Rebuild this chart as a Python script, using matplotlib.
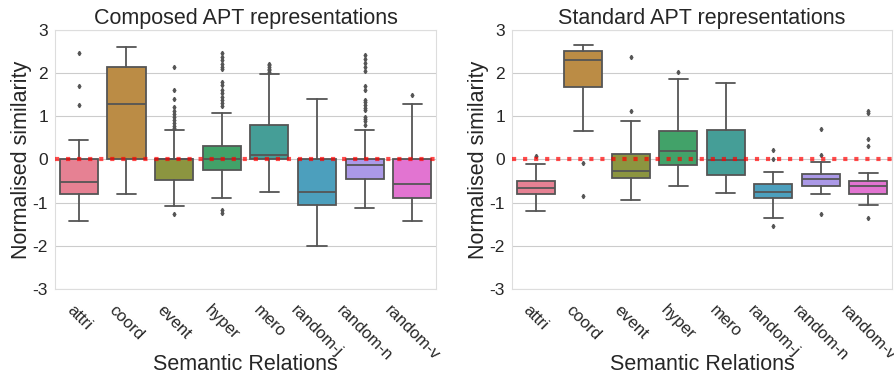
import matplotlib
matplotlib.use("Agg")
import matplotlib.pyplot as plt
import seaborn as sns

relations = ["attri", "coord", "event", "hyper", "mero", "random-j", "random-n", "random-v"]

# composed APT representations: box statistics
comp_whislo = [-1.42, -0.79, -1.07, -0.89, -0.75, -2.01, -1.12, -1.42]
comp_q1 = [-0.80, 0.00, -0.48, -0.24, 0.02, -1.05, -0.46, -0.89]
comp_med = [-0.52, 1.28, 0.00, 0.02, 0.10, -0.75, -0.12, -0.58]
comp_q3 = [0.00, 2.13, 0.00, 0.31, 0.80, 0.00, 0.00, 0.00]
comp_whishi = [0.45, 2.60, 0.68, 1.08, 1.97, 1.40, 0.68, 1.29]
comp_fliers = [
    [2.46, 1.70, 1.25],
    [],
    [2.13, 1.61, 1.41, 1.22, 1.13, 1.05, 0.98, 0.91, 0.84, 0.78, 0.72, -1.27],
    [2.46, 2.38, 2.30, 2.22, 2.15, 2.09, 1.80, 1.73, 1.61, 1.53, 1.45, 1.38,
     1.30, 1.24, -1.17, -1.25],
    [2.22, 2.18, 2.14, 2.10, 2.06, 2.02],
    [],
    [2.42, 2.33, 2.23, 2.15, 2.05, 1.69, 1.61, 1.38, 1.32, 1.26, 1.20, 1.15,
     0.99, 0.93, 0.88, 0.80],
    [1.49],
]

# standard APT representations
std_whislo = [-1.19, 0.65, -0.95, -0.62, -0.77, -1.35, -0.80, -1.06]
std_q1 = [-0.81, 1.67, -0.44, -0.13, -0.36, -0.90, -0.62, -0.81]
std_med = [-0.66, 2.30, -0.27, 0.19, -0.02, -0.76, -0.46, -0.62]
std_q3 = [-0.50, 2.52, 0.12, 0.67, 0.68, -0.56, -0.34, -0.50]
std_whishi = [-0.10, 2.65, 0.88, 1.86, 1.76, -0.29, -0.05, -0.31]
std_fliers = [
    [0.08],
    [-0.08, -0.85],
    [2.37, 1.12],
    [2.03],
    [],
    [0.21, 0.02, -1.53],
    [0.70, 0.11, -1.27],
    [1.12, 1.07, 0.47, 0.30, -1.36],
]

sns.set_style("whitegrid")
plt.rcParams["font.family"] = ["Liberation Sans", "DejaVu Sans"]
plt.rcParams["axes.unicode_minus"] = False

colors = sns.color_palette("husl", len(relations), desat=0.75)
line_col = "#555555"


def draw(ax, title, whislo, q1, med, q3, whishi, fliers):
    stats = []
    for i, name in enumerate(relations):
        stats.append(dict(label=name, whislo=whislo[i], q1=q1[i], med=med[i],
                          q3=q3[i], whishi=whishi[i], fliers=fliers[i]))
    bp = ax.bxp(stats, positions=range(len(relations)), widths=0.8,
                patch_artist=True,
                boxprops=dict(edgecolor=line_col, linewidth=1.3),
                medianprops=dict(color=line_col, linewidth=1.3),
                whiskerprops=dict(color=line_col, linewidth=1.3),
                capprops=dict(color=line_col, linewidth=1.3),
                flierprops=dict(marker="d", markersize=2.2, markerfacecolor=line_col,
                                markeredgecolor=line_col))
    for patch, c in zip(bp["boxes"], colors):
        patch.set_facecolor(c)
    ax.axhline(0, color="red", alpha=0.7, lw=3, ls=":", zorder=5)
    ax.set_xlim(-0.5, len(relations) - 0.5)
    ax.set_ylim(-3, 3)
    ax.set_yticks([-3, -2, -1, 0, 1, 2, 3])
    ax.tick_params(axis="y", labelsize=12.5, length=0, pad=5)
    ax.tick_params(axis="x", labelsize=12, length=0, pad=10)
    ax.set_xticks(range(len(relations)))
    ax.set_xticklabels(relations, rotation=-45, ha="center")
    ax.xaxis.grid(False)
    ax.set_title(title, fontsize=15.5, pad=4)
    ax.set_xlabel("Semantic Relations", fontsize=15.5)
    ax.set_ylabel("Normalised similarity", fontsize=15.5)
    ax.xaxis.set_label_coords(0.5, -0.25)
    ax.yaxis.set_label_coords(-0.06, 0.5)
    for s in ax.spines.values():
        s.set_color("#dddddd")


fig = plt.figure(figsize=(8.95, 3.81), dpi=100)
ax1 = fig.add_axes([0.0615, 0.2415, 0.4257, 0.68])
ax2 = fig.add_axes([0.572, 0.2415, 0.4246, 0.68])

draw(ax1, "Composed APT representations", comp_whislo, comp_q1, comp_med,
     comp_q3, comp_whishi, comp_fliers)
draw(ax2, "Standard APT representations", std_whislo, std_q1, std_med,
     std_q3, std_whishi, std_fliers)

fig.savefig("out.png", dpi=100)
